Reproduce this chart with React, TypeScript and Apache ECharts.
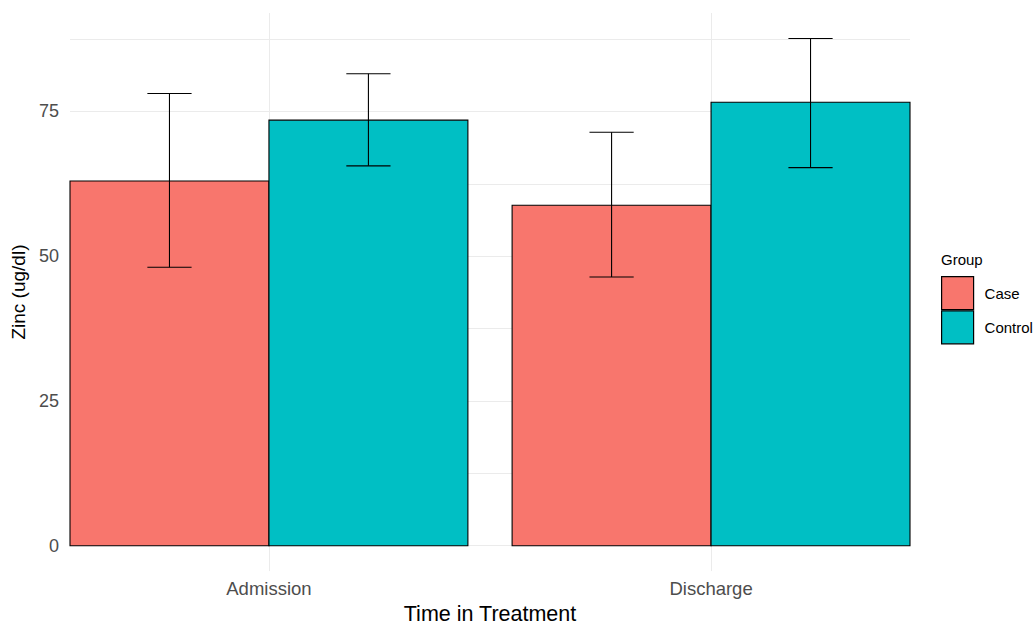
import React, { useEffect, useRef } from "react";
import * as echarts from "echarts";

const categories = ["Admission", "Discharge"];
const groups = ["Case", "Control"];
const caseMeans = [63.0, 58.8];
const caseLow = [48.1, 46.4];
const caseHigh = [78.1, 71.4];
const controlMeans = [73.5, 76.6];
const controlLow = [65.6, 65.3];
const controlHigh = [81.5, 87.6];
const yTickLabels = [0, 25, 50, 75];
const yGridValues = [0, 12.5, 25, 37.5, 50, 62.5, 75, 87.5];
const colors = ["#F8766D", "#00BFC4"];

const DODGE = 0.225;
const HALF_BAR = 0.225;
const HALF_WHISKER = 0.05;

export default function App() {
  const ref = useRef<HTMLDivElement>(null);
  useEffect(() => {
    document.body.style.margin = "0";
    if (!ref.current) return;
    const chart = echarts.init(ref.current, null, { renderer: "svg" });
    const font = "'Liberation Sans', Arial, sans-serif";

    const makeData = (means: number[], lo: number[], hi: number[], off: number) =>
      categories.map((_, i) => [i + 1 + off, means[i], lo[i], hi[i]]);

    const renderItem = (params: any, api: any) => {
      const x = api.value(0);
      const y = api.value(1);
      const lo = api.value(2);
      const hi = api.value(3);
      const p0 = api.coord([x - HALF_BAR, 0]);
      const p1 = api.coord([x + HALF_BAR, y]);
      const pLo = api.coord([x, lo]);
      const pHi = api.coord([x, hi]);
      const w = api.coord([x + HALF_WHISKER, lo])[0] - pLo[0];
      const color = api.visual("color");
      return {
        type: "group",
        children: [
          {
            type: "rect",
            shape: { x: p0[0], y: p1[1], width: p1[0] - p0[0], height: p0[1] - p1[1] },
            style: { fill: color, stroke: "#000", lineWidth: 1.1 },
          },
          {
            type: "line",
            shape: { x1: pLo[0], y1: pLo[1], x2: pHi[0], y2: pHi[1] },
            style: { stroke: "#000", lineWidth: 1.1 },
          },
          {
            type: "line",
            shape: { x1: pHi[0] - w, y1: pHi[1], x2: pHi[0] + w, y2: pHi[1] },
            style: { stroke: "#000", lineWidth: 1.1 },
          },
          {
            type: "line",
            shape: { x1: pLo[0] - w, y1: pLo[1], x2: pLo[0] + w, y2: pLo[1] },
            style: { stroke: "#000", lineWidth: 1.1 },
          },
        ],
      };
    };

    chart.setOption({
      animation: false,
      backgroundColor: "#fff",
      textStyle: { fontFamily: font },
      title: {
        text: "Group",
        left: 941,
        top: 252,
        padding: 0,
        textStyle: { fontSize: 15, fontWeight: "normal", color: "#000", fontFamily: font },
      },
      legend: {
        orient: "vertical",
        left: 941,
        top: 276,
        padding: 0,
        itemWidth: 32,
        itemHeight: 33,
        itemGap: 0,
        icon: "rect",
        textStyle: { fontSize: 15, color: "#000", fontFamily: font, padding: [0, 0, 0, 6] },
        data: groups.map((g, i) => ({
          name: g,
          itemStyle: { color: colors[i], borderColor: "#000", borderWidth: 1.2 },
        })),
      },
      grid: { left: 70, right: 124, top: 13, bottom: 51 },
      xAxis: {
        type: "value",
        min: 0.55,
        max: 2.45,
        name: "Time in Treatment",
        nameLocation: "middle",
        nameGap: 30,
        nameTextStyle: { fontSize: 21.5, color: "#000", fontFamily: font },
        axisLine: { show: false },
        axisTick: { show: false },
        splitLine: { show: false },
        axisLabel: {
          customValues: [1, 2],
          formatter: (v: number) => categories[Math.round(v) - 1] ?? "",
          fontSize: 18.5,
          color: "#4d4d4d",
          margin: 8,
          fontFamily: font,
        },
      },
      yAxis: {
        type: "value",
        min: -4.38,
        max: 92,
        name: "Zinc (ug/dl)",
        nameLocation: "middle",
        nameRotate: 90,
        nameGap: 35,
        nameTextStyle: { fontSize: 19, color: "#000", fontFamily: font },
        axisLine: { show: false },
        axisTick: { show: false },
        splitLine: { show: false },
        axisLabel: {
          customValues: yTickLabels,
          fontSize: 18,
          color: "#4d4d4d",
          margin: 11,
          fontFamily: font,
        },
      },
      series: [
        {
          name: "grid",
          type: "line",
          data: [],
          silent: true,
          z: 0,
          markLine: {
            silent: true,
            z: 0,
            symbol: "none",
            label: { show: false },
            lineStyle: { color: "#ebebeb", width: 1, type: "solid" },
            data: [
              ...yGridValues.map((v) => ({ yAxis: v })),
              ...categories.map((_, i) => ({ xAxis: i + 1 })),
            ],
          },
        },
        {
          name: groups[0],
          type: "custom",
          z: 5,
          itemStyle: { color: colors[0] },
          renderItem,
          encode: { x: 0, y: 1 },
          data: makeData(caseMeans, caseLow, caseHigh, -DODGE),
        },
        {
          name: groups[1],
          type: "custom",
          z: 5,
          itemStyle: { color: colors[1] },
          renderItem,
          encode: { x: 0, y: 1 },
          data: makeData(controlMeans, controlLow, controlHigh, DODGE),
        },
      ],
    });
    return () => chart.dispose();
  }, []);
  return <div ref={ref} style={{ width: 1034, height: 630 }} />;
}
